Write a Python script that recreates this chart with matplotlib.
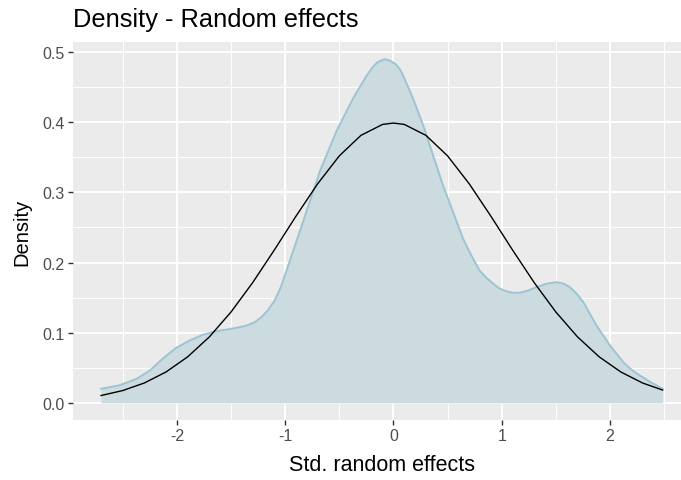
import matplotlib
matplotlib.use("Agg")
import matplotlib.pyplot as plt
import numpy as np

plt.rcParams['font.family'] = ['Liberation Sans', 'DejaVu Sans']

# density of standardized random effects
dens_x = [-2.70, -2.53, -2.375, -2.25, -2.13, -2.01, -1.88, -1.76, -1.64, -1.48,
          -1.36, -1.28, -1.22, -1.16, -1.10, -1.04, -0.96, -0.835, -0.68, -0.527,
          -0.373, -0.25, -0.19, -0.145, -0.08, -0.034, 0.02, 0.058, 0.089, 0.181,
          0.274, 0.366, 0.458, 0.551, 0.643, 0.72, 0.798, 0.86, 0.921, 0.98,
          1.044, 1.10, 1.167, 1.24, 1.322, 1.42, 1.506, 1.57, 1.629, 1.69,
          1.752, 1.876, 1.999, 2.122, 2.20, 2.276, 2.38, 2.486]
dens_y = [0.020, 0.025, 0.034, 0.046, 0.063, 0.078, 0.089, 0.097, 0.102, 0.106,
          0.110, 0.115, 0.122, 0.132, 0.145, 0.165, 0.201, 0.258, 0.330, 0.387,
          0.434, 0.466, 0.479, 0.486, 0.490, 0.488, 0.483, 0.476, 0.467, 0.434,
          0.396, 0.353, 0.310, 0.272, 0.234, 0.210, 0.188, 0.178, 0.170, 0.163,
          0.159, 0.157, 0.157, 0.160, 0.165, 0.170, 0.172, 0.170, 0.165, 0.156,
          0.144, 0.110, 0.082, 0.058, 0.047, 0.039, 0.029, 0.020]

# normal reference curve
norm_x = [-2.70, -2.50, -2.30, -2.10, -1.90, -1.70, -1.50, -1.30, -1.10, -0.90,
          -0.70, -0.50, -0.30, -0.10, 0.00, 0.10, 0.30, 0.50, 0.70, 0.90,
          1.10, 1.30, 1.50, 1.70, 1.90, 2.10, 2.30, 2.486]
norm_y = [0.0104, 0.0175, 0.0283, 0.0440, 0.0656, 0.0940, 0.1295, 0.1714, 0.2179, 0.2661,
          0.3123, 0.3521, 0.3814, 0.3970, 0.3989, 0.3970, 0.3814, 0.3521, 0.3123, 0.2661,
          0.2179, 0.1714, 0.1295, 0.0940, 0.0656, 0.0440, 0.0283, 0.0182]

fig = plt.figure(figsize=(6.81, 4.81), dpi=100)
ax = fig.add_axes([73/681, 60/481, 617.7/681, 378/481])
ax.set_facecolor('#EBEBEB')

ax.fill_between(dens_x, 0, dens_y, color='#CBDBE0', lw=0, zorder=2)
ax.plot(dens_x, dens_y, color='#9CC4D2', lw=1.4, zorder=3)
ax.plot(norm_x, norm_y, color='black', lw=1.0, zorder=4)

xr = max(dens_x) - min(dens_x)
ax.set_xlim(min(dens_x) - 0.05*xr, max(dens_x) + 0.05*xr)
yr = max(dens_y)
ax.set_ylim(-0.05*yr, yr*1.05)

ax.set_xticks([-2, -1, 0, 1, 2])
ax.set_xticks([-2.5, -1.5, -0.5, 0.5, 1.5, 2.5], minor=True)
ax.set_yticks([0.0, 0.1, 0.2, 0.3, 0.4, 0.5])
ax.set_yticks([0.05, 0.15, 0.25, 0.35, 0.45], minor=True)
ax.set_xticklabels(['-2', '-1', '0', '1', '2'])
ax.set_yticklabels(['0.0', '0.1', '0.2', '0.3', '0.4', '0.5'])
ax.grid(which='major', color='white', lw=1.4, zorder=1)
ax.grid(which='minor', color='white', lw=0.7, zorder=1)
ax.set_axisbelow(True)
for s in ax.spines.values():
    s.set_visible(False)
ax.tick_params(which='major', length=3.5, width=1.0, color='#333333',
               labelcolor='#4D4D4D', labelsize=11.5, pad=2.5)
ax.tick_params(which='minor', length=0)

ax.set_xlabel('Std. random effects', fontsize=15.5, labelpad=8)
ax.set_ylabel('Density', fontsize=14.5, labelpad=8)
fig.text(73/681, 1 - 27/481, 'Density - Random effects', fontsize=18.3,
         ha='left', va='baseline')

fig.savefig('out.png', dpi=100)
